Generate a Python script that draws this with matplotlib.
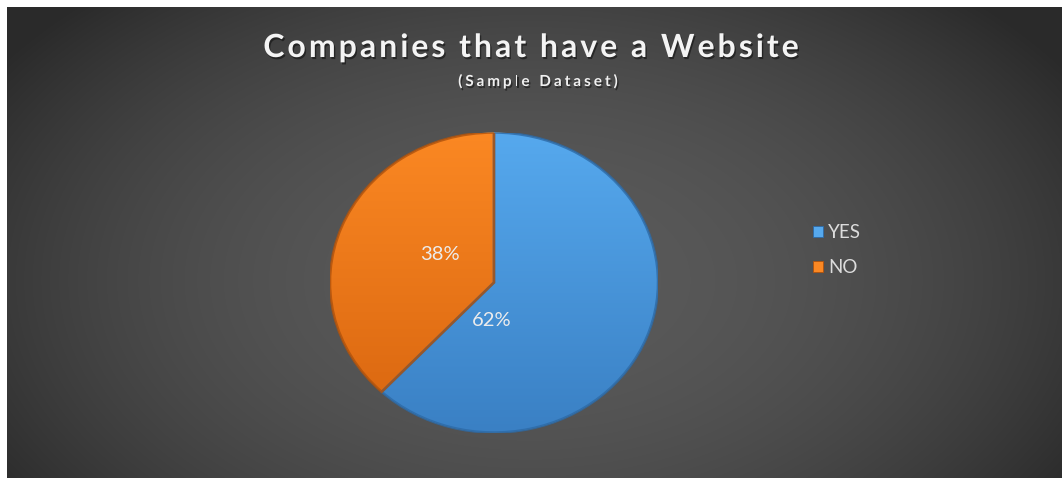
import numpy as np
import matplotlib.pyplot as plt
import matplotlib.patheffects as pe
from matplotlib.colors import to_rgb
from matplotlib.patches import Patch, Wedge, Rectangle

# chart data
labels = ["YES", "NO"]
shares = [62, 38]
title = "Companies that have a Website"
subtitle = "(Sample Dataset)"

# slice shading (top -> bottom of the pie)
top_colors = ["#56a9ee", "#fb8823"]
bottom_colors = ["#3a80c4", "#d8650f"]
edge_colors = ["#2d6aa6", "#b0520c"]

W, H = 1062, 478
FONT = ["Lato", "DejaVu Sans"]

fig = plt.figure(figsize=(W / 100, H / 100), dpi=100)
fig.patch.set_facecolor("#2c2c2c")

# dark panel with a soft radial glow in the middle
bg = fig.add_axes([0, 0, 1, 1])
xs = np.arange(0, W)
ys = np.arange(0, H)
gx, gy = np.meshgrid(xs, ys)
d2 = ((gx - 530) / 620) ** 2 + ((gy - 280) / 380) ** 2
v = np.clip(90 - 45 * d2, 42, 90) / 255
bg.imshow(np.dstack([v, v, v]), aspect="auto", origin="upper",
          extent=(0, 1, 0, 1), interpolation="bilinear")
bg.set_axis_off()

# white margin on the left and top
fig.patches.append(Rectangle((0, 0), 7 / W, 1, transform=fig.transFigure,
                             facecolor="white", edgecolor="none", zorder=5))
fig.patches.append(Rectangle((0, 1 - 7 / H), 1, 7 / H, transform=fig.transFigure,
                             facecolor="white", edgecolor="none", zorder=5))

# pie
cx, cy, rx, ry = 494, 282.5, 164, 150
ax = fig.add_axes([(cx - rx) / W, (H - cy - ry) / H, 2 * rx / W, 2 * ry / H])
wedges, _ = ax.pie(shares, startangle=90, counterclock=False, radius=1,
                   colors=top_colors, wedgeprops=dict(linewidth=0))
ax.set_aspect("auto")
ax.set_xlim(-1, 1)
ax.set_ylim(-1, 1)
ax.set_axis_off()

t = np.linspace(0, 1, 256)[:, None]
for w, c_top, c_bot, c_edge in zip(wedges, top_colors, bottom_colors, edge_colors):
    a = np.array(to_rgb(c_top))
    b = np.array(to_rgb(c_bot))
    grad = (a[None, :] * (1 - t) + b[None, :] * t)[:, None, :]
    grad = np.repeat(grad, 4, axis=1)
    im = ax.imshow(grad, extent=(-1, 1, -1, 1), aspect="auto",
                   origin="upper", zorder=2, interpolation="bilinear")
    im.set_clip_path(w)
    w.set_zorder(1)
    # darker bevel along the rim
    ax.add_patch(Wedge((0, 0), 1, w.theta1, w.theta2, facecolor="none",
                       edgecolor=c_edge, linewidth=1.8, alpha=0.8, zorder=3))

# percentage labels
label_pos = [(492, 320), (440, 255)]
for val, (px, py) in zip(shares, label_pos):
    fig.text(px / W, 1 - py / H, f"{val}%", ha="center", va="center",
             fontsize=14.5, color="#ececec", family=FONT)


def spaced_text(s, cx_px, base_px, track, **kw):
    # draw a string with extra letter spacing, centred on cx_px
    r = fig.canvas.get_renderer()
    probe = fig.text(0, 0, "", **kw)

    def width(txt):
        probe.set_text(txt + "x")
        w1 = probe.get_window_extent(r).width
        probe.set_text("x")
        return w1 - probe.get_window_extent(r).width

    offs = [width(s[:i]) for i in range(len(s))]
    total = width(s) + track * (len(s) - 1)
    probe.remove()
    x0 = cx_px - total / 2
    for i, ch in enumerate(s):
        fig.text((x0 + offs[i] + i * track) / W, 1 - base_px / H, ch,
                 ha="left", va="baseline", **kw)


shadow = [pe.withSimplePatchShadow(offset=(1, -1.5), shadow_rgbFace="black", alpha=0.45)]
spaced_text(title, 531, 57, 3.0, fontsize=23, weight="bold", color="#f4f4f4",
            family=FONT, path_effects=shadow)
spaced_text(subtitle, 538, 86, 3.0, fontsize=11, weight="bold", color="#f0f0f0",
            family=FONT, path_effects=shadow)

# legend
handles = [Patch(facecolor=c, edgecolor=e, linewidth=0.6)
           for c, e in zip(top_colors, edge_colors)]
leg = fig.legend(handles, labels, loc="center left",
                 bbox_to_anchor=(813 / W, 1 - 250 / H), frameon=False,
                 fontsize=13.5, handlelength=0.55, handleheight=0.55,
                 handletextpad=0.25, labelspacing=0.95, borderpad=0,
                 borderaxespad=0)
for txt in leg.get_texts():
    txt.set_color("#dcdcdc")
    txt.set_family(FONT)

fig.savefig("out.png", dpi=100)
